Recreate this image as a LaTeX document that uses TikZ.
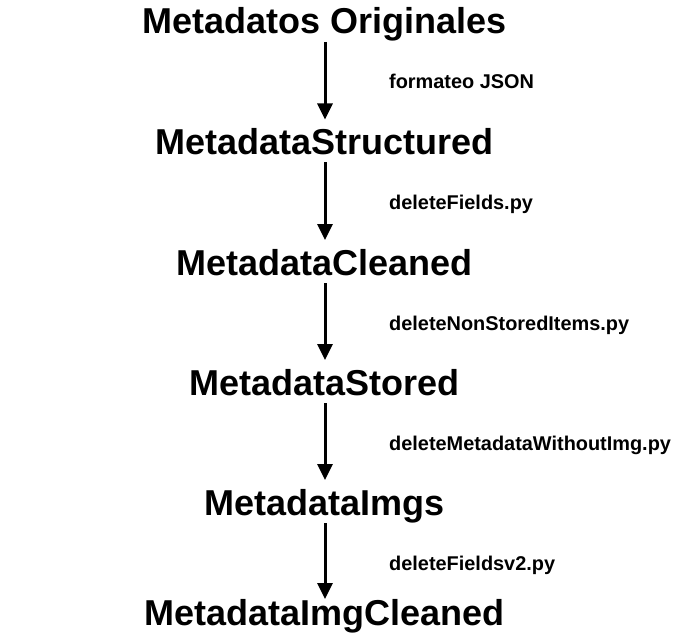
\documentclass[tikz,border=0pt]{standalone}
\usepackage{fontspec}
\setmainfont{Liberation Sans}
\usetikzlibrary{arrows.meta}
\tikzset{
  title/.style={anchor=base, inner sep=0pt, font=\bfseries\fontsize{36bp}{40bp}\selectfont},
  lbl/.style={anchor=base west, inner sep=0pt, font=\bfseries\fontsize{19.9bp}{22bp}\selectfont},
  arr/.style={line width=3bp, -{Triangle[width=15bp,length=16bp]}}
}
\begin{document}
\begin{tikzpicture}[x=1bp,y=-1bp]
\useasboundingbox (0,0) rectangle (673,643);
\node[title] (t1) at (324.5,34) {Metadatos Originales};
\node[title] (t2) at (324.5,154.5) {MetadataStructured};
\node[title] (t3) at (324.5,275) {MetadataCleaned};
\node[title] (t4) at (324.5,395) {MetadataStored};
\node[title] (t5) at (324.5,515) {MetadataImgs};
\node[title] (t6) at (324.5,625) {MetadataImgCleaned};
\node[lbl] (l1) at (389,88.5) {formateo JSON};
\node[lbl] (l2) at (389,209) {deleteFields.py};
\node[lbl] (l3) at (389,330) {deleteNonStoredItems.py};
\node[lbl] (l4) at (389,450) {deleteMetadataWithoutImg.py};
\node[lbl] (l5) at (389,570) {deleteFieldsv2.py};
\draw[arr] ([shift={(0.5,8)}]t1.base) -- ([shift={(0.5,-35)}]t2.base);
\draw[arr] ([shift={(0.5,8)}]t2.base) -- ([shift={(0.5,-35)}]t3.base);
\draw[arr] ([shift={(0.5,8)}]t3.base) -- ([shift={(0.5,-35)}]t4.base);
\draw[arr] ([shift={(0.5,8)}]t4.base) -- ([shift={(0.5,-35)}]t5.base);
\draw[arr] ([shift={(0.5,8)}]t5.base) -- ([shift={(0.5,-26)}]t6.base);
\end{tikzpicture}
\end{document}
